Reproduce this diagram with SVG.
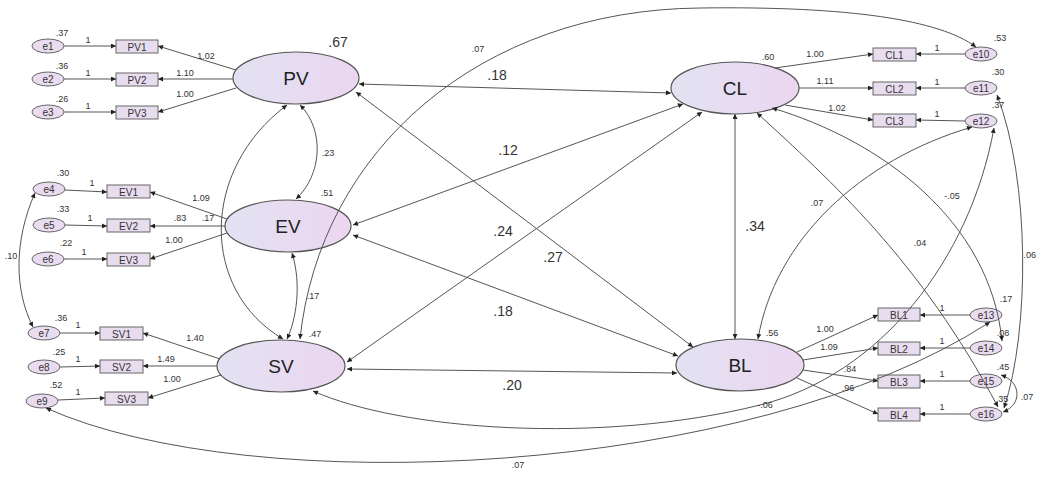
<svg xmlns="http://www.w3.org/2000/svg" width="1038" height="477" viewBox="0 0 1038 477">
<defs>
<linearGradient id="lg" x1="0" y1="0" x2="1" y2="0">
<stop offset="0" stop-color="#e2e2f2"/>
<stop offset="1" stop-color="#ecd6f0"/>
</linearGradient>
<marker id="ah" viewBox="0 0 10 10" refX="10" refY="5" markerWidth="7" markerHeight="5" markerUnits="userSpaceOnUse" orient="auto-start-reverse">
<path d="M0,0 L10,5 L0,10 z" fill="#222"/>
</marker>
<style>
.lat{fill:url(#lg);stroke:#555;stroke-width:1.2}
.box{fill:#e8dcef;stroke:#666;stroke-width:1}
.err{fill:#eadcf0;stroke:#666;stroke-width:1}
.c{fill:none;stroke:#555;stroke-width:1}
.a{marker-end:url(#ah)}
.b{marker-start:url(#ah);marker-end:url(#ah)}
text{font-family:"Liberation Sans",Arial,sans-serif;fill:#333;text-anchor:middle}
.s{font-size:9px}
.m{font-size:10px}
.l{font-size:14px}
.n{font-size:19px;fill:#222}
</style>
</defs>
<g id="nodes">
<g id="PV"><ellipse class="lat" cx="296" cy="78" rx="63" ry="26"/><text class="n" x="296" y="85">PV</text></g>
<g id="EV"><ellipse class="lat" cx="288" cy="226" rx="63" ry="26"/><text class="n" x="288" y="233">EV</text></g>
<g id="SV"><ellipse class="lat" cx="281" cy="366" rx="64" ry="26"/><text class="n" x="281" y="373">SV</text></g>
<g id="CL"><ellipse class="lat" cx="735" cy="88" rx="64" ry="26"/><text class="n" x="735" y="95">CL</text></g>
<g id="BL"><ellipse class="lat" cx="740" cy="365" rx="64" ry="26"/><text class="n" x="740" y="372">BL</text></g>
<g id="PV1"><rect class="box" x="116" y="40" width="42" height="13"/><text class="m" x="137" y="50.5">PV1</text></g>
<g id="PV2"><rect class="box" x="116" y="73" width="42" height="13"/><text class="m" x="137" y="83.5">PV2</text></g>
<g id="PV3"><rect class="box" x="116" y="106" width="42" height="13"/><text class="m" x="137" y="116.5">PV3</text></g>
<g id="EV1"><rect class="box" x="107" y="185" width="43" height="13"/><text class="m" x="128.5" y="195.5">EV1</text></g>
<g id="EV2"><rect class="box" x="107" y="219" width="43" height="13"/><text class="m" x="128.5" y="229.5">EV2</text></g>
<g id="EV3"><rect class="box" x="107" y="253" width="43" height="13"/><text class="m" x="128.5" y="263.5">EV3</text></g>
<g id="SV1"><rect class="box" x="100" y="327" width="43" height="13"/><text class="m" x="121.5" y="337.5">SV1</text></g>
<g id="SV2"><rect class="box" x="100" y="360" width="43" height="13"/><text class="m" x="121.5" y="370.5">SV2</text></g>
<g id="SV3"><rect class="box" x="105" y="392" width="43" height="13"/><text class="m" x="126.5" y="402.5">SV3</text></g>
<g id="CL1"><rect class="box" x="873" y="48" width="43" height="13"/><text class="m" x="894.5" y="58.5">CL1</text></g>
<g id="CL2"><rect class="box" x="873" y="82" width="43" height="13"/><text class="m" x="894.5" y="92.5">CL2</text></g>
<g id="CL3"><rect class="box" x="873" y="114" width="43" height="13"/><text class="m" x="894.5" y="124.5">CL3</text></g>
<g id="BL1"><rect class="box" x="878" y="308" width="42" height="13"/><text class="m" x="899" y="318.5">BL1</text></g>
<g id="BL2"><rect class="box" x="878" y="342" width="42" height="13"/><text class="m" x="899" y="352.5">BL2</text></g>
<g id="BL3"><rect class="box" x="878" y="375" width="42" height="13"/><text class="m" x="899" y="385.5">BL3</text></g>
<g id="BL4"><rect class="box" x="878" y="408" width="42" height="13"/><text class="m" x="899" y="418.5">BL4</text></g>
<g id="e1"><ellipse class="err" cx="48" cy="46" rx="16" ry="7"/><text class="m" x="48" y="50">e1</text></g>
<g id="e2"><ellipse class="err" cx="48" cy="79" rx="16" ry="7"/><text class="m" x="48" y="83">e2</text></g>
<g id="e3"><ellipse class="err" cx="48" cy="112" rx="16" ry="7"/><text class="m" x="48" y="116">e3</text></g>
<g id="e4"><ellipse class="err" cx="49" cy="189" rx="16" ry="7"/><text class="m" x="49" y="193">e4</text></g>
<g id="e5"><ellipse class="err" cx="49" cy="225" rx="16" ry="7"/><text class="m" x="49" y="229">e5</text></g>
<g id="e6"><ellipse class="err" cx="48" cy="259" rx="16" ry="7"/><text class="m" x="48" y="263">e6</text></g>
<g id="e7"><ellipse class="err" cx="44" cy="333" rx="16" ry="7"/><text class="m" x="44" y="337">e7</text></g>
<g id="e8"><ellipse class="err" cx="44" cy="367" rx="16" ry="7"/><text class="m" x="44" y="371">e8</text></g>
<g id="e9"><ellipse class="err" cx="42" cy="401" rx="16" ry="7"/><text class="m" x="42" y="405">e9</text></g>
<g id="e10"><ellipse class="err" cx="981" cy="54" rx="16" ry="7"/><text class="m" x="981" y="58">e10</text></g>
<g id="e11"><ellipse class="err" cx="981" cy="88" rx="16" ry="7"/><text class="m" x="981" y="92">e11</text></g>
<g id="e12"><ellipse class="err" cx="981" cy="121" rx="16" ry="7"/><text class="m" x="981" y="125">e12</text></g>
<g id="e13"><ellipse class="err" cx="986" cy="315" rx="16" ry="7"/><text class="m" x="986" y="319">e13</text></g>
<g id="e14"><ellipse class="err" cx="986" cy="348" rx="16" ry="7"/><text class="m" x="986" y="352">e14</text></g>
<g id="e15"><ellipse class="err" cx="986" cy="381" rx="16" ry="7"/><text class="m" x="986" y="385">e15</text></g>
<g id="e16"><ellipse class="err" cx="986" cy="414" rx="16" ry="7"/><text class="m" x="986" y="418">e16</text></g>
</g>
<g id="connectors">
<line class="c a" x1="64" y1="46" x2="116" y2="46"/>
<line class="c a" x1="64" y1="79" x2="116" y2="79"/>
<line class="c a" x1="64" y1="112" x2="116" y2="112"/>
<line class="c a" x1="65" y1="190" x2="107" y2="192"/>
<line class="c a" x1="65" y1="225" x2="107" y2="226"/>
<line class="c a" x1="64" y1="259" x2="107" y2="259"/>
<line class="c a" x1="60" y1="333" x2="100" y2="333"/>
<line class="c a" x1="60" y1="367" x2="100" y2="366"/>
<line class="c a" x1="58" y1="400" x2="105" y2="398"/>
<line class="c a" x1="965" y1="54" x2="916" y2="54"/>
<line class="c a" x1="965" y1="88" x2="916" y2="88"/>
<line class="c a" x1="965" y1="121" x2="916" y2="120"/>
<line class="c a" x1="970" y1="315" x2="920" y2="315"/>
<line class="c a" x1="970" y1="348" x2="920" y2="348"/>
<line class="c a" x1="970" y1="381" x2="920" y2="381"/>
<line class="c a" x1="970" y1="414" x2="920" y2="414"/>
<line class="c a" x1="236" y1="70" x2="158" y2="46"/>
<line class="c a" x1="233" y1="79" x2="158" y2="79"/>
<line class="c a" x1="236" y1="88" x2="158" y2="112"/>
<line class="c a" x1="227" y1="219" x2="150" y2="192"/>
<line class="c a" x1="225" y1="226" x2="150" y2="226"/>
<line class="c a" x1="227" y1="233" x2="150" y2="259"/>
<line class="c a" x1="220" y1="359" x2="143" y2="333"/>
<line class="c a" x1="217" y1="366" x2="143" y2="366"/>
<line class="c a" x1="221" y1="375" x2="148" y2="398"/>
<line class="c a" x1="775" y1="68" x2="873" y2="54"/>
<line class="c a" x1="799" y1="88" x2="873" y2="88"/>
<line class="c a" x1="785" y1="105" x2="873" y2="120"/>
<line class="c a" x1="797" y1="352" x2="878" y2="315"/>
<line class="c a" x1="803" y1="360" x2="878" y2="348"/>
<line class="c a" x1="803" y1="370" x2="878" y2="381"/>
<line class="c a" x1="797" y1="378" x2="878" y2="414"/>
<line class="c b" x1="359" y1="84" x2="671" y2="93"/>
<line class="c b" x1="356" y1="92" x2="693" y2="347"/>
<line class="c b" x1="353" y1="225" x2="683" y2="104"/>
<line class="c b" x1="353" y1="235" x2="678" y2="356"/>
<line class="c b" x1="347" y1="362" x2="702" y2="112"/>
<line class="c b" x1="347" y1="369" x2="677" y2="373"/>
<line class="c b" x1="735" y1="114" x2="735" y2="339"/>
<path class="c b" d="M300,105 C325,130 322,175 296,199"/>
<path class="c b" d="M287,105 C200,170 200,290 283,339"/>
<path class="c b" d="M292,253 C302,285 296,320 287,339"/>
<path class="c b" d="M300,339 C320,150 480,10 700,8 C850,6 940,20 976,47"/>
<path class="c b" d="M35,193 C14,240 14,290 33,327"/>
<path class="c b" d="M46,408 C250,500 750,478 990,322"/>
<path class="c b" d="M313,391 C400,430 600,445 760,405 C880,375 970,260 994,128"/>
<path class="c b" d="M758,339 C775,240 860,160 972,127"/>
<path class="c b" d="M772,108 C880,140 990,220 1002,341"/>
<path class="c b" d="M757,113 C830,180 920,260 998,407"/>
<path class="c b" d="M997,95 C1030,180 1030,330 1004,408"/>
<path class="c b" d="M1001,375 C1022,382 1022,405 1003,412"/>
</g>
<g id="labels">
<text class="s" x="62" y="36">.37</text><text class="s" x="88" y="43">1</text>
<text class="s" x="62" y="69">.36</text><text class="s" x="88" y="76">1</text>
<text class="s" x="62" y="102">.26</text><text class="s" x="88" y="109">1</text>
<text class="s" x="206" y="59">1.02</text><text class="s" x="185" y="76">1.10</text><text class="s" x="185" y="97">1.00</text>
<text class="s" x="63" y="176">.30</text><text class="s" x="92" y="186">1</text>
<text class="s" x="63" y="212">.33</text><text class="s" x="90" y="221">1</text>
<text class="s" x="66" y="246">.22</text><text class="s" x="84" y="255">1</text>
<text class="s" x="11" y="259">.10</text>
<text class="s" x="201" y="201">1.09</text><text class="s" x="180" y="221">.83</text><text class="s" x="208" y="221">.17</text><text class="s" x="174" y="243">1.00</text>
<text class="s" x="61" y="321">.36</text><text class="s" x="78" y="328">1</text>
<text class="s" x="59" y="355">.25</text><text class="s" x="78" y="362">1</text>
<text class="s" x="56" y="388">.52</text><text class="s" x="78" y="395">1</text>
<text class="s" x="195" y="341">1.40</text><text class="s" x="166" y="362">1.49</text><text class="s" x="172" y="382">1.00</text>
<text class="l" x="338" y="47">.67</text>
<text class="s" x="478" y="52">.07</text>
<text class="l" x="497" y="80">.18</text>
<text class="s" x="328" y="156">.23</text>
<text class="s" x="327" y="196">.51</text>
<text class="l" x="508" y="155">.12</text>
<text class="l" x="503" y="236">.24</text>
<text class="l" x="553" y="262">.27</text>
<text class="l" x="503" y="316">.18</text>
<text class="l" x="512" y="390">.20</text>
<text class="s" x="313" y="299">.17</text>
<text class="s" x="315" y="337">.47</text>
<text class="s" x="518" y="468">.07</text>
<text class="s" x="1000" y="41">.53</text><text class="s" x="937" y="51">1</text>
<text class="s" x="768" y="60">.60</text><text class="s" x="815" y="57">1.00</text>
<text class="s" x="998" y="75">.30</text><text class="s" x="937" y="85">1</text><text class="s" x="825" y="84">1.11</text>
<text class="s" x="998" y="108">.37</text><text class="s" x="937" y="117">1</text><text class="s" x="837" y="111">1.02</text>
<text class="s" x="817" y="206">.07</text>
<text class="s" x="952" y="199">-.05</text>
<text class="l" x="755" y="231">.34</text>
<text class="s" x="920" y="246">.04</text>
<text class="s" x="1036" y="258" style="text-anchor:end">.06</text>
<text class="s" x="1006" y="302">.17</text><text class="s" x="942" y="311">1</text>
<text class="s" x="825" y="332">1.00</text><text class="s" x="772" y="336">.56</text>
<text class="s" x="1003" y="336">.08</text><text class="s" x="942" y="344">1</text><text class="s" x="829" y="350">1.09</text>
<text class="s" x="1003" y="370">.45</text><text class="s" x="942" y="377">1</text><text class="s" x="850" y="372">.84</text>
<text class="s" x="1002" y="402">.35</text><text class="s" x="1027" y="400">.07</text><text class="s" x="942" y="410">1</text>
<text class="s" x="848" y="391">.96</text><text class="s" x="765" y="408">-.06</text>
</g>
</svg>
